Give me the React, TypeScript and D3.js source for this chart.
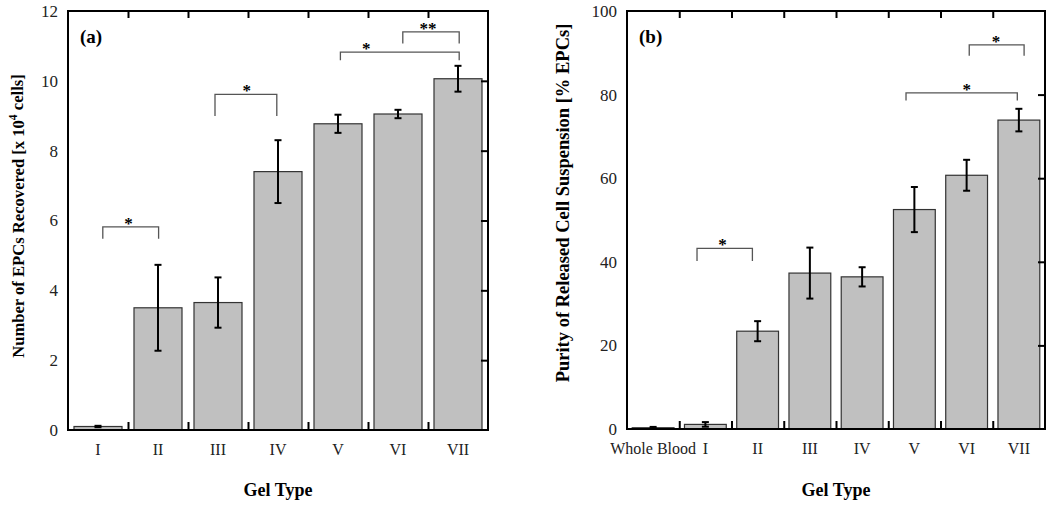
import React, { useEffect, useRef } from 'react';
import * as d3 from 'd3';

// panel (a): EPCs recovered
const gelTypesA = ['I', 'II', 'III', 'IV', 'V', 'VI', 'VII'];
const epcMeans = [0.1, 3.5, 3.65, 7.4, 8.77, 9.05, 10.06];
const epcErrors = [0.02, 1.23, 0.72, 0.9, 0.26, 0.12, 0.37];
const yTicksA = [0, 2, 4, 6, 8, 10, 12];
// significance brackets: positions in category-index units, heights in data units
const bracketsA = [
  { from: 0.08, to: 1.01, top: 5.82, leg: 5.48, mark: '*', at: 0.51 },
  { from: 1.95, to: 2.98, top: 9.61, leg: 8.99, mark: '*', at: 2.48 },
  { from: 4.04, to: 6.02, top: 10.82, leg: 10.59, mark: '*', at: 4.47 },
  { from: 5.08, to: 6.02, top: 11.4, leg: 11.07, mark: '**', at: 5.5 },
];

// panel (b): purity
const gelTypesB = ['Whole Blood', 'I', 'II', 'III', 'IV', 'V', 'VI', 'VII'];
const purityMeans = [0.3, 1.1, 23.4, 37.3, 36.4, 52.5, 60.7, 73.9];
const purityErrors = [0.2, 0.55, 2.4, 6.1, 2.3, 5.4, 3.7, 2.7];
const yTicksB = [0, 20, 40, 60, 80, 100];
const bracketsB = [
  { from: 0.84, to: 1.9, top: 43.2, leg: 40.2, mark: '*', at: 1.33 },
  { from: 4.84, to: 6.97, top: 80.4, leg: 78.6, mark: '*', at: 6.0 },
  { from: 6.05, to: 7.1, top: 91.9, leg: 89.3, mark: '*', at: 6.56 },
];

const FONT = '"Liberation Serif", "Times New Roman", serif';

const drawPanel = (g, opts) => {
  const { left, right, top, bottom, cats, means, errs, yMax, yTicks, brackets, tag, yLabel, yLabelX, yLabelY, yLabelSize } = opts;
  const n = cats.length;

  const x = d3.scaleBand().domain(cats).range([left, right]).paddingInner(0.2).paddingOuter(0.1);
  const xi = d3.scaleLinear().domain([0, n]).range([left, right]);
  const step = (right - left) / n;
  const xc = (i) => left + step * (i + 0.5);
  const y = d3.scaleLinear().domain([0, yMax]).range([bottom, top]);

  const data = cats.map((c, i) => ({ c, m: means[i], e: errs[i] }));

  // bars
  g.append('g')
    .selectAll('rect')
    .data(data)
    .enter()
    .append('rect')
    .attr('x', d => x(d.c))
    .attr('width', x.bandwidth())
    .attr('y', d => y(d.m))
    .attr('height', d => bottom - y(d.m))
    .attr('fill', '#c0c0c0')
    .attr('stroke', '#333')
    .attr('stroke-width', 1.2);

  // error bars
  const eb = g.append('g').attr('stroke', '#000').attr('stroke-width', 2);
  data.forEach((d) => {
    const cx = x(d.c) + x.bandwidth() / 2;
    eb.append('line').attr('x1', cx).attr('x2', cx).attr('y1', y(d.m + d.e)).attr('y2', y(d.m - d.e));
    [d.m + d.e, d.m - d.e].forEach((v) => {
      eb.append('line').attr('x1', cx - 3.5).attr('x2', cx + 3.5).attr('y1', y(v)).attr('y2', y(v));
    });
  });

  // left labels
  g.append('g')
    .attr('transform', `translate(${left},0)`)
    .call(d3.axisLeft(y).tickValues(yTicks).tickSize(0).tickPadding(10))
    .call(s => s.select('.domain').remove())
    .selectAll('text')
    .attr('font-family', FONT)
    .attr('font-size', 17)
    .attr('fill', '#222');

  // right inward ticks
  g.append('g')
    .attr('transform', `translate(${right},0)`)
    .call(d3.axisLeft(y).tickValues(yTicks.slice(1, -1)).tickSize(7).tickFormat(''))
    .call(s => s.select('.domain').remove())
    .selectAll('line')
    .attr('stroke-width', 2);

  // top and bottom ticks at category boundaries
  const bounds = d3.range(1, n);
  g.append('g')
    .attr('transform', `translate(0,${top})`)
    .call(d3.axisBottom(xi).tickValues(bounds).tickSize(7).tickFormat(''))
    .call(s => s.select('.domain').remove())
    .selectAll('line')
    .attr('stroke-width', 2);
  g.append('g')
    .attr('transform', `translate(0,${bottom})`)
    .call(d3.axisTop(xi).tickValues(bounds).tickSize(8).tickFormat(''))
    .call(s => s.select('.domain').remove())
    .selectAll('line')
    .attr('stroke-width', 2);

  // category labels
  g.append('g')
    .attr('transform', `translate(0,${bottom})`)
    .call(d3.axisBottom(x).tickSize(0).tickPadding(14))
    .call(s => s.select('.domain').remove())
    .selectAll('text')
    .attr('font-family', FONT)
    .attr('font-size', 16)
    .attr('fill', '#222');

  // frame
  g.append('rect')
    .attr('x', left)
    .attr('y', top)
    .attr('width', right - left)
    .attr('height', bottom - top)
    .attr('fill', 'none')
    .attr('stroke', '#000')
    .attr('stroke-width', 2);

  // significance brackets
  const br = g.append('g');
  brackets.forEach((b) => {
    const x1 = xc(b.from);
    const x2 = xc(b.to);
    br.append('path')
      .attr('d', `M${x1},${y(b.leg)}V${y(b.top)}H${x2}V${y(b.leg)}`)
      .attr('fill', 'none')
      .attr('stroke', '#555')
      .attr('stroke-width', 1.3);
    br.append('text')
      .attr('x', xc(b.at))
      .attr('y', y(b.top) + 2)
      .attr('text-anchor', 'middle')
      .attr('font-family', FONT)
      .attr('font-weight', 'bold')
      .attr('font-size', 17)
      .text(b.mark);
  });

  // panel tag
  g.append('text')
    .attr('x', left + 12)
    .attr('y', top + 32)
    .attr('font-family', FONT)
    .attr('font-weight', 'bold')
    .attr('font-size', 19)
    .text(tag);

  // x title
  g.append('text')
    .attr('x', (left + right) / 2)
    .attr('y', 496)
    .attr('text-anchor', 'middle')
    .attr('font-family', FONT)
    .attr('font-weight', 'bold')
    .attr('font-size', 18)
    .text('Gel Type');

  // y title
  const yt = g.append('text')
    .attr('transform', `translate(${yLabelX},${yLabelY}) rotate(-90)`)
    .attr('text-anchor', 'middle')
    .attr('dy', '0.35em')
    .attr('font-family', FONT)
    .attr('font-weight', 'bold')
    .attr('font-size', yLabelSize);
  yLabel.forEach((part) => {
    const t = yt.append('tspan').text(part.text);
    if (part.sup) t.attr('font-size', yLabelSize * 0.7).attr('dy', '-0.6em');
    if (part.after) t.attr('dy', '0.4em');
  });
};

const App = () => {
  const ref = useRef(null);

  useEffect(() => {
    const svg = d3.select(ref.current);
    svg.selectAll('*').remove();

    drawPanel(svg.append('g'), {
      left: 68, right: 488, top: 11, bottom: 430,
      cats: gelTypesA, means: epcMeans, errs: epcErrors,
      yMax: 12, yTicks: yTicksA, brackets: bracketsA, tag: '(a)',
      yLabel: [
        { text: 'Number of EPCs Recovered [x 10' },
        { text: '4', sup: true },
        { text: ' cells]', after: true },
      ],
      yLabelX: 18, yLabelY: 216, yLabelSize: 16.6,
    });

    drawPanel(svg.append('g'), {
      left: 627, right: 1045, top: 11, bottom: 429,
      cats: gelTypesB, means: purityMeans, errs: purityErrors,
      yMax: 100, yTicks: yTicksB, brackets: bracketsB, tag: '(b)',
      yLabel: [{ text: 'Purity of Released Cell Suspension [% EPCs]' }],
      yLabelX: 563, yLabelY: 203, yLabelSize: 18.5,
    });
  }, []);

  return (
    <svg
      ref={ref}
      width={1050}
      height={508}
      style={{ position: 'absolute', left: 0, top: 0, background: '#fff' }}
    />
  );
};

export default App;
